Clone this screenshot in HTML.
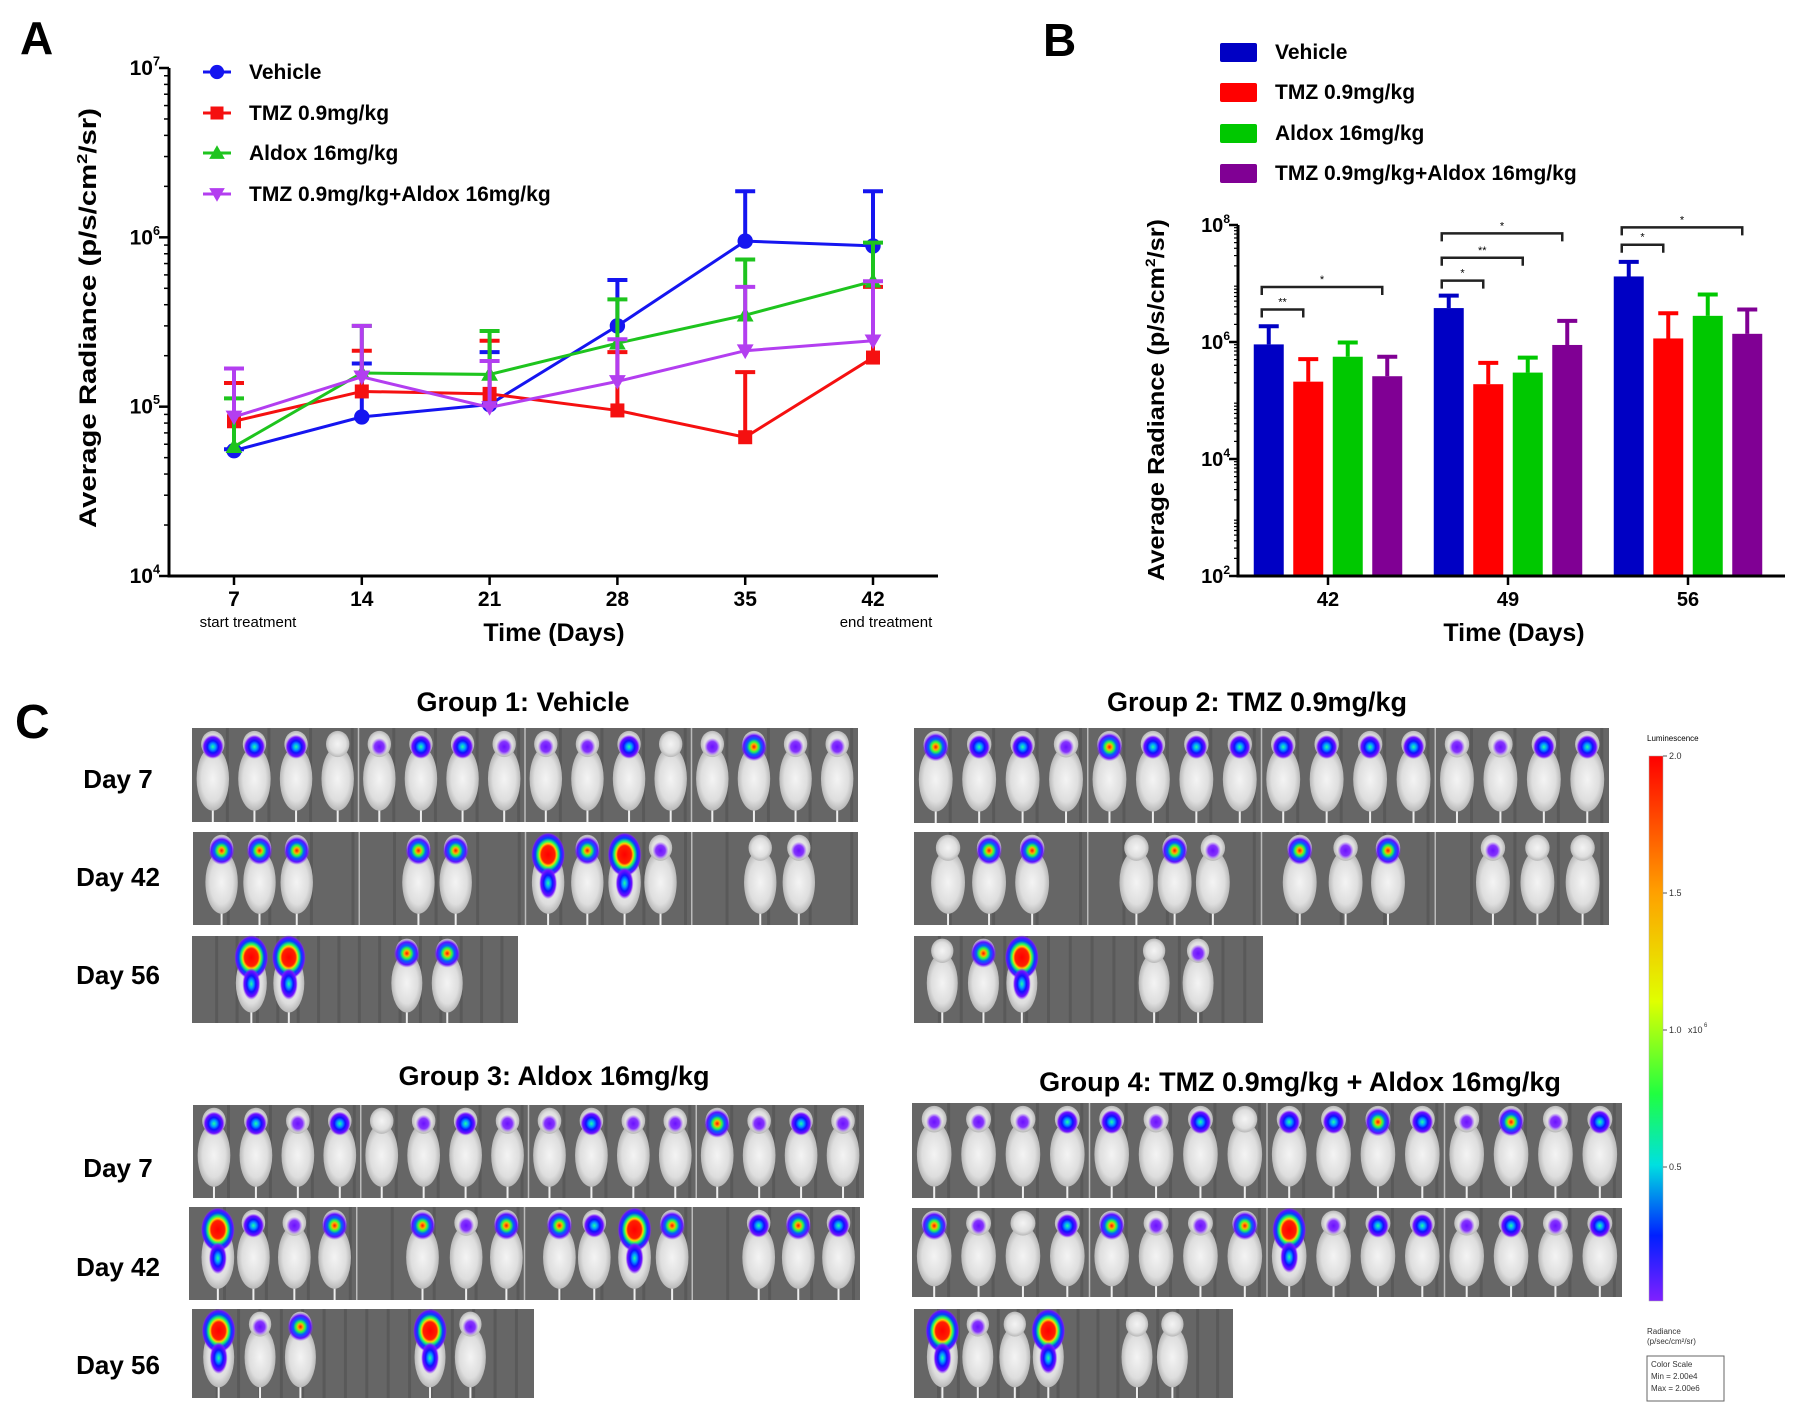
<!DOCTYPE html>
<html><head><meta charset="utf-8"><style>
html,body{margin:0;padding:0;background:#fff;}
svg{display:block;font-family:"Liberation Sans",Arial,sans-serif;}
</style></head><body>
<svg id="fig" width="1800" height="1417" viewBox="0 0 1800 1417" xmlns="http://www.w3.org/2000/svg">
<defs>
<radialGradient id="g1"><stop offset="0" stop-color="#6a10ff"/><stop offset="0.6" stop-color="#7a20ff" stop-opacity="0.9"/><stop offset="1" stop-color="#9040ff" stop-opacity="0"/></radialGradient>
<radialGradient id="g2"><stop offset="0" stop-color="#20ffa0"/><stop offset="0.25" stop-color="#00a0ff"/><stop offset="0.5" stop-color="#1010ff"/><stop offset="0.8" stop-color="#7010ff"/><stop offset="1" stop-color="#9040ff" stop-opacity="0"/></radialGradient>
<radialGradient id="g3"><stop offset="0" stop-color="#ff1000"/><stop offset="0.2" stop-color="#ffb000"/><stop offset="0.35" stop-color="#30ff40"/><stop offset="0.55" stop-color="#0060ff"/><stop offset="0.8" stop-color="#6010ff"/><stop offset="1" stop-color="#9040ff" stop-opacity="0"/></radialGradient>
<radialGradient id="g4"><stop offset="0" stop-color="#ff0000"/><stop offset="0.4" stop-color="#ff2000"/><stop offset="0.5" stop-color="#ffd000"/><stop offset="0.6" stop-color="#20ff60"/><stop offset="0.75" stop-color="#0040ff"/><stop offset="0.9" stop-color="#6010ff"/><stop offset="1" stop-color="#9040ff" stop-opacity="0"/></radialGradient>
<radialGradient id="mouse" cx="0.5" cy="0.5" r="0.5"><stop offset="0" stop-color="#f4f4f4"/><stop offset="0.7" stop-color="#dedede"/><stop offset="1" stop-color="#b8b8b8"/></radialGradient>
<linearGradient id="cbar" x1="0" y1="0" x2="0" y2="1"><stop offset="0" stop-color="#ff0000"/><stop offset="0.25" stop-color="#ffa000"/><stop offset="0.45" stop-color="#e0ff00"/><stop offset="0.62" stop-color="#20ff40"/><stop offset="0.75" stop-color="#00e0e0"/><stop offset="0.88" stop-color="#0020ff"/><stop offset="1" stop-color="#8020ff"/></linearGradient>
</defs>
</svg>
<script>
// ---------- Panel A data ----------
const daysA = [7, 14, 21, 28, 35, 42];
const vehicleA = [5.5e4, 8.7e4, 1.03e5, 3.0e5, 9.5e5, 8.9e5];
const vehicleAErr = [5.6e4, 1.8e5, 2.1e5, 5.6e5, 1.87e6, 1.87e6];
const tmzA = [8.2e4, 1.23e5, 1.19e5, 9.5e4, 6.6e4, 1.95e5];
const tmzAErr = [1.38e5, 2.14e5, 2.45e5, 2.1e5, 1.6e5, 5.1e5];
const aldoxA = [5.8e4, 1.58e5, 1.55e5, 2.37e5, 3.47e5, 5.5e5];
const aldoxAErr = [1.12e5, 3.0e5, 2.8e5, 4.3e5, 7.4e5, 9.3e5];
const comboA = [8.7e4, 1.5e5, 9.9e4, 1.41e5, 2.14e5, 2.45e5];
const comboAErr = [1.68e5, 3.0e5, 1.86e5, 2.5e5, 5.1e5, 5.5e5];
const tickExpA = [4, 5, 6, 7];
// ---------- Panel B data ----------
const daysB = ["42", "49", "56"];
const vehicleB = [9.1e5, 3.8e6, 1.32e7];
const vehicleBErr = [1.86e6, 6.2e6, 2.34e7];
const tmzB = [2.1e5, 1.9e5, 1.15e6];
const tmzBErr = [5.1e5, 4.4e5, 3.1e6];
const aldoxB = [5.6e5, 3.0e5, 2.8e6];
const aldoxBErr = [9.8e5, 5.4e5, 6.5e6];
const comboB = [2.6e5, 8.9e5, 1.38e6];
const comboBErr = [5.6e5, 2.3e6, 3.6e6];
const tickExpB = [2, 4, 6, 8];
const sigGroup = [0, 0, 1, 1, 1, 2, 2];
const sigTo = [1, 3, 1, 2, 3, 1, 3];
const sigLevel = [3.6e6, 8.7e6, 1.12e7, 2.75e7, 7.2e7, 4.6e7, 9.1e7];
const sigLabel = ["**", "*", "*", "**", "*", "*", "*"];

const NS = "http://www.w3.org/2000/svg";
const svg = document.getElementById('fig');
function mk(tag, attrs, parent) {
  const e = document.createElementNS(NS, tag);
  for (const k in attrs) e.setAttribute(k, attrs[k]);
  (parent || svg).appendChild(e);
  return e;
}
function txt(s, attrs, parent) { const t = mk('text', attrs, parent); t.textContent = s; return t; }
function pow10(parent, x, y, exp, size) {
  const t = mk('text', {x: x, y: y, 'text-anchor': 'end', 'font-size': size, 'font-weight': 'bold'}, parent);
  t.appendChild(document.createTextNode('10'));
  const s = document.createElementNS(NS, 'tspan');
  s.setAttribute('dy', -size * 0.45); s.setAttribute('font-size', size * 0.6);
  s.textContent = exp; t.appendChild(s);
  return t;
}

// ================= PANEL A =================
const gA = mk('g', {});


const A_X0 = 169, A_Y0 = 576, A_Y1 = 68, A_XEND = 938;
function xA(d) { return 234 + (d - 7) / 7 * 127.8; }
function yA(v) { return A_Y0 - (Math.log10(v) - 4) * (A_Y0 - A_Y1) / 3; }
let lab = txt('A', {x: 20, y: 54, 'font-size': 46, 'font-weight': 'bold'}, gA);


let axA = mk('path', {d: `M${A_X0} ${A_Y1} V${A_Y0} H${A_XEND}`, stroke: '#000', 'stroke-width': 3, fill: 'none'}, gA);


for (let e = 4; e < 7; e++) for (let m = 2; m < 10; m++) {
  const y = yA(m * Math.pow(10, e));
  const mt = mk('line', {x1: A_X0 - 5, x2: A_X0, y1: y, y2: y, stroke: '#000', 'stroke-width': 1.5}, gA);
  
  
}
tickExpA.forEach(e => {
  const y = yA(Math.pow(10, e));
  const t = mk('line', {x1: A_X0 - 10, x2: A_X0, y1: y, y2: y, stroke: '#000', 'stroke-width': 2.5}, gA);
  
  
  const l = pow10(gA, 160, y + 7, e, 21);
  
  
});
daysA.forEach(d => {
  const x = xA(d);
  const t = mk('line', {x1: x, x2: x, y1: A_Y0, y2: A_Y0 + 9, stroke: '#000', 'stroke-width': 2.5}, gA);
  
  
  const l = txt(String(d), {x: x, y: 606, 'text-anchor': 'middle', 'font-size': 21, 'font-weight': 'bold'}, gA);
  
  
});
lab = txt('start treatment', {x: 248, y: 627, 'text-anchor': 'middle', 'font-size': 15}, gA);


lab = txt('end treatment', {x: 886, y: 627, 'text-anchor': 'middle', 'font-size': 15}, gA);


lab = txt('Time (Days)', {x: 554, y: 641, 'text-anchor': 'middle', 'font-size': 25, 'font-weight': 'bold'}, gA);


lab = mk('text', {x: 0, y: 0, 'text-anchor': 'middle', 'font-size': 24, 'font-weight': 'bold', transform: 'translate(96,318) rotate(-90)', textLength: 420, lengthAdjust: 'spacingAndGlyphs'}, gA);
lab.innerHTML = 'Average Radiance (p/s/cm<tspan dy="-9" font-size="15">2</tspan><tspan dy="9">/sr)</tspan>';



const seriesA = [
  {name: 'vehicle', vals: vehicleA, err: vehicleAErr, color: '#1515f0', mark: 'circle'},
  {name: 'tmz', vals: tmzA, err: tmzAErr, color: '#f51010', mark: 'square'},
  {name: 'aldox', vals: aldoxA, err: aldoxAErr, color: '#1ec41e', mark: 'tri'},
  {name: 'combo', vals: comboA, err: comboAErr, color: '#b33ef0', mark: 'tridown'}
];
function marker(g, kind, x, y, c, s) {
  let m;
  if (kind === 'circle') m = mk('circle', {cx: x, cy: y, r: s * 0.55, fill: c}, g);
  else if (kind === 'square') m = mk('rect', {x: x - s / 2, y: y - s / 2, width: s, height: s, fill: c}, g);
  else if (kind === 'tri') m = mk('path', {d: `M${x} ${y - s * 0.6} L${x + s * 0.6} ${y + s * 0.45} L${x - s * 0.6} ${y + s * 0.45}Z`, fill: c}, g);
  else m = mk('path', {d: `M${x} ${y + s * 0.6} L${x + s * 0.6} ${y - s * 0.45} L${x - s * 0.6} ${y - s * 0.45}Z`, fill: c}, g);
  return m;
}
seriesA.forEach(s => {
  const g = mk('g', {}, gA);
  
  
  s.vals.forEach((v, i) => {
    const x = xA(daysA[i]);
    const eb = mk('path', {d: `M${x} ${yA(v)} V${yA(s.err[i])} M${x - 10} ${yA(s.err[i])} H${x + 10}`, stroke: s.color, 'stroke-width': 4, fill: 'none'}, g);
    
    
  });
  const ln = mk('polyline', {points: s.vals.map((v, i) => xA(daysA[i]) + ',' + yA(v)).join(' '), stroke: s.color, 'stroke-width': 3, fill: 'none'}, g);
  
  
  s.vals.forEach((v, i) => {
    const m = marker(g, s.mark, xA(daysA[i]), yA(v), s.color, 14);
    
    
  });
});
const legA = ['Vehicle', 'TMZ 0.9mg/kg', 'Aldox 16mg/kg', 'TMZ 0.9mg/kg+Aldox 16mg/kg'];
const legAY = [72, 113, 153, 194];
seriesA.forEach((s, i) => {
  const g = mk('g', {}, gA);
  
  
  mk('line', {x1: 203, x2: 231, y1: legAY[i], y2: legAY[i], stroke: s.color, 'stroke-width': 3}, g);
  marker(g, s.mark, 217, legAY[i], s.color, 13);
  txt(legA[i], {x: 249, y: legAY[i] + 7, 'font-size': 21, 'font-weight': 'bold'}, g);
});

// ================= PANEL B =================
const gB = mk('g', {});


const B_X0 = 1238, B_Y0 = 576, B_Y1 = 225, B_XEND = 1785;
function yB(v) { return B_Y0 - (Math.log10(v) - 2) * (B_Y0 - B_Y1) / 6; }
function xB(gi, bi) { return 1328 + gi * 180 + (bi - 1.5) * 39.5; }
lab = txt('B', {x: 1043, y: 56, 'font-size': 46, 'font-weight': 'bold'}, gB);


const seriesB = [
  {name: 'vehicle', vals: vehicleB, err: vehicleBErr, color: '#0000c4'},
  {name: 'tmz', vals: tmzB, err: tmzBErr, color: '#ff0000'},
  {name: 'aldox', vals: aldoxB, err: aldoxBErr, color: '#00c800'},
  {name: 'combo', vals: comboB, err: comboBErr, color: '#800094'}
];
seriesB.forEach((s, bi) => {
  const g = mk('g', {}, gB);
  
  
  s.vals.forEach((v, gi) => {
    const x = xB(gi, bi);
    const eb = mk('path', {d: `M${x} ${yB(v)} V${yB(s.err[gi])} M${x - 10} ${yB(s.err[gi])} H${x + 10}`, stroke: s.color, 'stroke-width': 4, fill: 'none'}, g);
    
    
    const r = mk('rect', {x: x - 15, y: yB(v), width: 30, height: B_Y0 - yB(v), fill: s.color}, g);
    
    
  });
});
let axB = mk('path', {d: `M${B_X0} ${B_Y1} V${B_Y0} H${B_XEND}`, stroke: '#000', 'stroke-width': 3, fill: 'none'}, gB);


for (let e = 2; e < 8; e++) for (let m = 2; m < 10; m++) {
  const y = yB(m * Math.pow(10, e));
  const mt = mk('line', {x1: B_X0 - 4, x2: B_X0, y1: y, y2: y, stroke: '#000', 'stroke-width': 1.2}, gB);
  
  
}
tickExpB.forEach(e => {
  const y = yB(Math.pow(10, e));
  const t = mk('line', {x1: B_X0 - 9, x2: B_X0, y1: y, y2: y, stroke: '#000', 'stroke-width': 2.5}, gB);
  
  
  const l = pow10(gB, 1230, y + 7, e, 20);
  
  
});
daysB.forEach((d, gi) => {
  const x = 1328 + gi * 180;
  const t = mk('line', {x1: x, x2: x, y1: B_Y0, y2: B_Y0 + 9, stroke: '#000', 'stroke-width': 2.5}, gB);
  
  
  const l = txt(d, {x: x, y: 606, 'text-anchor': 'middle', 'font-size': 20, 'font-weight': 'bold'}, gB);
  
  
});
lab = txt('Time (Days)', {x: 1514, y: 641, 'text-anchor': 'middle', 'font-size': 25, 'font-weight': 'bold'}, gB);


lab = mk('text', {x: 0, y: 0, 'text-anchor': 'middle', 'font-size': 23, 'font-weight': 'bold', transform: 'translate(1164,400) rotate(-90)', textLength: 362, lengthAdjust: 'spacingAndGlyphs'}, gB);
lab.innerHTML = 'Average Radiance (p/s/cm<tspan dy="-9" font-size="14">2</tspan><tspan dy="9">/sr)</tspan>';


sigLevel.forEach((lv, i) => {
  const g = mk('g', {}, gB);
  
  
  const x1 = xB(sigGroup[i], 0) - 7, x2 = xB(sigGroup[i], sigTo[i]) - 5, y = yB(lv);
  mk('path', {d: `M${x1} ${y + 8} V${y} H${x2} V${y + 8}`, stroke: '#222', 'stroke-width': 2.5, fill: 'none'}, g);
  txt(sigLabel[i], {x: (x1 + x2) / 2, y: y - 4, 'text-anchor': 'middle', 'font-size': 11}, g);
});
const legB = ['Vehicle', 'TMZ 0.9mg/kg', 'Aldox 16mg/kg', 'TMZ 0.9mg/kg+Aldox 16mg/kg'];
const legBY = [52, 92, 133, 173];
seriesB.forEach((s, i) => {
  const g = mk('g', {}, gB);
  
  
  mk('rect', {x: 1220, y: legBY[i] - 9, width: 37, height: 19, fill: s.color, rx: 2}, g);
  txt(legB[i], {x: 1275, y: legBY[i] + 7, 'font-size': 21, 'font-weight': 'bold'}, g);
});

// ================= PANEL C =================
const gC = mk('g', {});


lab = txt('C', {x: 15, y: 738, 'font-size': 48, 'font-weight': 'bold'}, gC);


const even16 = Array.from({length: 16}, (_, i) => (i + 0.5) / 16);
const groups = [
  {title: 'Group 1: Vehicle', tx: 523, ty: 711, labels: true, ly: [788, 886, 984], strips: [
    {x: 192, y: 728, w: 666, h: 94, pos: even16, lv: [2,2,2,0,1,2,2,1,1,1,2,0,1,3,1,1]},
    {x: 193, y: 832, w: 665, h: 93, pos: [.043,.100,.156,.339,.395,.534,.593,.649,.703,.853,.911], lv: [3,3,3,3,3,4,3,4,1,0,1]},
    {x: 192, y: 936, w: 326, h: 87, pos: [.182,.297,.659,.783], lv: [4,4,3,3]}]},
  {title: 'Group 2: TMZ 0.9mg/kg', tx: 1257, ty: 711, labels: false, strips: [
    {x: 914, y: 728, w: 695, h: 95, pos: even16, lv: [3,2,2,1,3,2,2,2,2,2,2,2,1,1,2,2]},
    {x: 914, y: 832, w: 695, h: 93, pos: [.049,.108,.170,.320,.375,.430,.555,.621,.682,.833,.897,.962], lv: [0,3,3,0,3,1,3,1,3,1,0,0]},
    {x: 914, y: 936, w: 349, h: 87, pos: [.081,.199,.309,.688,.814], lv: [0,3,4,0,1]}]},
  {title: 'Group 3: Aldox 16mg/kg', tx: 554, ty: 1085, labels: true, ly: [1177, 1276, 1374], strips: [
    {x: 193, y: 1105, w: 671, h: 93, pos: even16, lv: [2,2,1,2,0,1,2,1,1,2,1,1,3,1,2,1]},
    {x: 189, y: 1207, w: 671, h: 93, pos: [.043,.096,.157,.217,.348,.413,.473,.552,.604,.664,.720,.849,.908,.968], lv: [4,2,1,3,3,1,3,3,2,4,3,2,3,2]},
    {x: 192, y: 1309, w: 342, h: 89, pos: [.078,.199,.317,.696,.814], lv: [4,1,3,4,1]}]},
  {title: 'Group 4: TMZ 0.9mg/kg + Aldox 16mg/kg', tx: 1300, ty: 1091, labels: false, strips: [
    {x: 912, y: 1103, w: 710, h: 95, pos: even16, lv: [1,1,1,2,2,1,2,0,2,2,3,2,1,3,1,2]},
    {x: 912, y: 1208, w: 710, h: 89, pos: even16, lv: [3,1,0,2,3,1,1,3,4,1,2,2,1,2,1,2]},
    {x: 914, y: 1309, w: 319, h: 89, pos: [.089,.200,.316,.421,.699,.810], lv: [4,1,0,4,0,0]}]}
];
const dayNames = ['Day 7', 'Day 42', 'Day 56'];
groups.forEach((G, gi) => {
  const g = mk('g', {}, gC);
  
  
  const t = txt(G.title, {x: G.tx, y: G.ty, 'text-anchor': 'middle', 'font-size': 27, 'font-weight': 'bold'}, g);
  
  
  if (G.labels) G.ly.forEach((y, i) => {
    const l = txt(dayNames[i], {x: 118, y: y, 'text-anchor': 'middle', 'font-size': 26, 'font-weight': 'bold'}, g);
    
    
  });
  G.strips.forEach((S, si) => {
    const sg = mk('g', {}, g);
    
    
    mk('rect', {x: S.x, y: S.y, width: S.w, height: S.h, fill: '#666'}, sg);
    for (let k = 0; k < 16; k++) {
      const xx = S.x + (k + 0.5) * S.w / 16 + 13;
      if (xx < S.x + S.w) mk('rect', {x: xx, y: S.y, width: 3, height: S.h, fill: '#505050', opacity: 0.6}, sg);
    }
    for (let k = 1; k < 4; k++) if (S.w > 500) mk('line', {x1: S.x + S.w * k / 4, x2: S.x + S.w * k / 4, y1: S.y, y2: S.y + S.h, stroke: '#bbb', 'stroke-width': 1.5}, sg);
    const mw = S.w > 500 ? S.w / 16 * 0.78 : 31;
    S.pos.forEach((p, mi) => {
      const cx = S.x + p * S.w, h = S.h;
      const mg = mk('g', {}, sg);
      
      
      mk('line', {x1: cx, x2: cx, y1: S.y + h * 0.8, y2: S.y + h, stroke: '#eee', 'stroke-width': 2}, mg);
      mk('ellipse', {cx: cx, cy: S.y + h * 0.54, rx: mw / 2, ry: h * 0.34, fill: 'url(#mouse)'}, mg);
      mk('ellipse', {cx: cx, cy: S.y + h * 0.17, rx: mw * 0.36, ry: h * 0.14, fill: 'url(#mouse)'}, mg);
      const L = S.lv[mi];
      if (L > 0) {
        const r = [0, 8, 11, 13, 17][L];
        mk('ellipse', {cx: cx, cy: S.y + h * 0.2 + (L === 4 ? 4 : 0), rx: r, ry: r * (L === 4 ? 1.3 : 1.1), fill: 'url(#g' + L + ')'}, mg);
        if (L === 4) mk('ellipse', {cx: cx, cy: S.y + h * 0.55, rx: 9, ry: 16, fill: 'url(#g2)'}, mg);
      }
    });
  });
});
// color bar
const cb = mk('g', {}, gC);


txt('Luminescence', {x: 1647, y: 741, 'font-size': 8}, cb);
mk('rect', {x: 1649, y: 756, width: 14, height: 545, fill: 'url(#cbar)', stroke: '#aaa', 'stroke-width': 0.5}, cb);
const cbLabels = ['2.0', '1.5', '1.0', '0.5'];
const cbY = [756, 893, 1030, 1167];
cbLabels.forEach((s, i) => {
  mk('line', {x1: 1663, x2: 1667, y1: cbY[i], y2: cbY[i], stroke: '#555'}, cb);
  txt(s, {x: 1669, y: cbY[i] + 3, 'font-size': 9, fill: '#333'}, cb);
});
txt('x10', {x: 1688, y: 1033, 'font-size': 9, fill: '#333'}, cb);
txt('6', {x: 1704, y: 1027, 'font-size': 6, fill: '#333'}, cb);
txt('Radiance', {x: 1647, y: 1334, 'font-size': 8, fill: '#333'}, cb);
txt('(p/sec/cm²/sr)', {x: 1647, y: 1344, 'font-size': 8, fill: '#333'}, cb);
mk('rect', {x: 1647, y: 1356, width: 77, height: 45, fill: '#fff', stroke: '#666', 'stroke-width': 1}, cb);
txt('Color Scale', {x: 1651, y: 1367, 'font-size': 8, fill: '#333'}, cb);
txt('Min = 2.00e4', {x: 1651, y: 1379, 'font-size': 8, fill: '#333'}, cb);
txt('Max = 2.00e6', {x: 1651, y: 1391, 'font-size': 8, fill: '#333'}, cb);
</script>
</body></html>
